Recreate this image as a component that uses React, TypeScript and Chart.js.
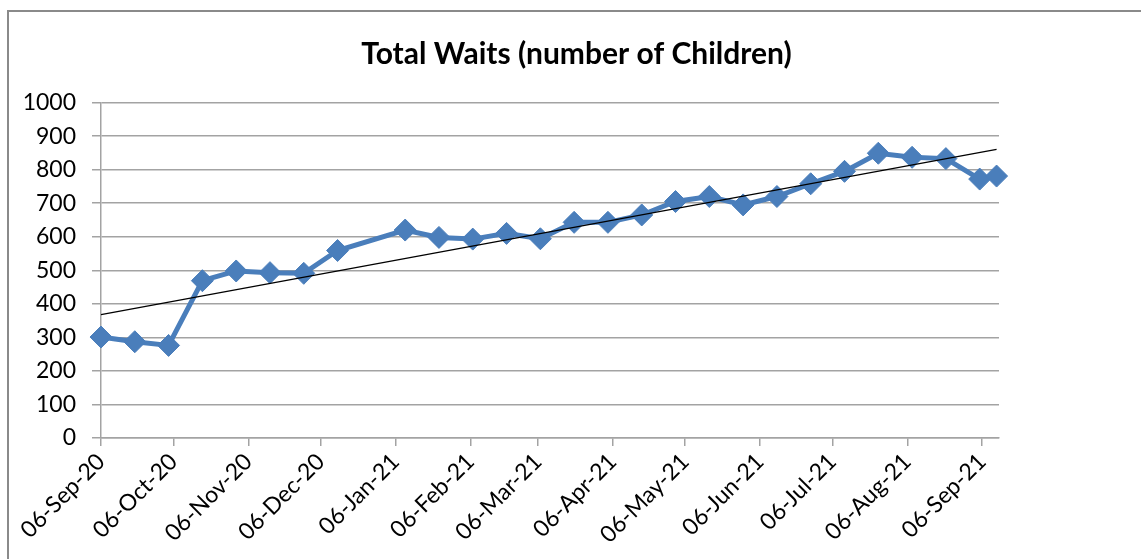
import React, { useEffect, useRef } from 'react';
import { Chart, registerables } from 'chart.js';

Chart.register(...registerables);

// Sample dates (fortnightly snapshots)
const sampleDates = [
  '2020-09-06', '2020-09-20', '2020-10-04', '2020-10-18', '2020-11-01',
  '2020-11-15', '2020-11-29', '2020-12-13', '2021-01-10', '2021-01-24',
  '2021-02-07', '2021-02-21', '2021-03-07', '2021-03-21', '2021-04-04',
  '2021-04-18', '2021-05-02', '2021-05-16', '2021-05-30', '2021-06-13',
  '2021-06-27', '2021-07-11', '2021-07-25', '2021-08-08', '2021-08-22',
  '2021-09-05', '2021-09-12',
];

const totalWaits = [
  301, 287, 276, 469, 498,
  493, 491, 559, 620, 598,
  593, 610, 594, 643, 643,
  665, 705, 720, 695, 720,
  758, 795, 849, 837, 833,
  772, 781,
];

const tickDates = [
  '2020-09-06', '2020-10-06', '2020-11-06', '2020-12-06', '2021-01-06',
  '2021-02-06', '2021-03-06', '2021-04-06', '2021-05-06', '2021-06-06',
  '2021-07-06', '2021-08-06', '2021-09-06',
];

const tickLabels = [
  '06-Sep-20', '06-Oct-20', '06-Nov-20', '06-Dec-20', '06-Jan-21',
  '06-Feb-21', '06-Mar-21', '06-Apr-21', '06-May-21', '06-Jun-21',
  '06-Jul-21', '06-Aug-21', '06-Sep-21',
];

const yTicks = [0, 100, 200, 300, 400, 500, 600, 700, 800, 900, 1000];

const axisStart = '2020-09-06';
const axisEnd = '2021-09-13';

const DAY = 86400000;
const toDay = (s: string) =>
  (Date.parse(s + 'T00:00:00Z') - Date.parse(axisStart + 'T00:00:00Z')) / DAY;

export default function App() {
  const ref = useRef<HTMLCanvasElement | null>(null);

  useEffect(() => {
    if (!ref.current) return;
    const xs = sampleDates.map(toDay);
    const points = xs.map((x, i) => ({ x, y: totalWaits[i] }));

    // linear trendline (least squares)
    const n = xs.length;
    const mx = xs.reduce((a, b) => a + b, 0) / n;
    const my = totalWaits.reduce((a, b) => a + b, 0) / n;
    let sxy = 0;
    let sxx = 0;
    xs.forEach((x, i) => {
      sxy += (x - mx) * (totalWaits[i] - my);
      sxx += (x - mx) * (x - mx);
    });
    const slope = sxy / sxx;
    const icpt = my - slope * mx;
    const x0 = xs[0];
    const x1 = xs[n - 1];
    const trend = [
      { x: x0, y: icpt + slope * x0 },
      { x: x1, y: icpt + slope * x1 },
    ];

    const tickDays = tickDates.map(toDay);
    const gridColor = '#a3a3a3';
    const labelFont = { family: 'Lato', size: 23 };

    const chart = new Chart(ref.current, {
      type: 'line',
      data: {
        datasets: [
          {
            label: 'Trend',
            data: trend,
            borderColor: '#000000',
            borderWidth: 1.3,
            pointRadius: 0,
            fill: false,
            order: 0,
            clip: false,
            yAxisID: 'y',
            xAxisID: 'x',
          },
          {
            label: 'Total Waits',
            data: points,
            borderColor: '#4a7ebb',
            backgroundColor: '#4a7ebb',
            borderWidth: 5,
            pointStyle: 'rectRot',
            pointRadius: 11,
            pointBackgroundColor: '#4a7ebb',
            pointBorderColor: '#4a7ebb',
            pointBorderWidth: 1,
            tension: 0,
            fill: false,
            order: 1,
            clip: false,
            yAxisID: 'y',
            xAxisID: 'x',
          },
        ],
      },
      options: {
        responsive: false,
        animation: false,
        layout: { padding: { left: 12, right: 0, top: 0, bottom: 0 } },
        plugins: {
          legend: { display: false },
          tooltip: { enabled: false },
          title: {
            display: true,
            text: 'Total Waits (number of Children)',
            color: '#000000',
            font: { family: 'Lato', size: 30, weight: 'bold', lineHeight: 1.2 },
            padding: { top: 36, bottom: 30.6 },
          },
        },
        scales: {
          x: {
            type: 'linear',
            position: 'bottom',
            min: 0,
            max: toDay(axisEnd),
            afterBuildTicks: (scale: any) => {
              scale.ticks = tickDays.map((v) => ({ value: v }));
            },
            afterFit: (scale: any) => {
              scale.height = 121;
            },
            grid: {
              display: true,
              drawOnChartArea: false,
              drawTicks: true,
              tickLength: 8,
              color: gridColor,
              lineWidth: 1.5,
            },
            border: { display: true, color: gridColor, width: 1.5 },
            ticks: {
              autoSkip: false,
              minRotation: 45,
              maxRotation: 45,
              padding: 2,
              color: '#000000',
              font: labelFont,
              callback: (value: any) => {
                const i = tickDays.indexOf(Number(value));
                return i >= 0 ? tickLabels[i] : '';
              },
            },
          },
          y: {
            type: 'linear',
            position: 'left',
            min: 0,
            max: 1000,
            afterBuildTicks: (scale: any) => {
              scale.ticks = yTicks.map((v) => ({ value: v }));
            },
            afterFit: (scale: any) => {
              scale.width = 89;
            },
            grid: {
              display: true,
              drawOnChartArea: true,
              drawTicks: true,
              tickLength: 9,
              color: gridColor,
              lineWidth: 1.5,
            },
            border: { display: true, color: gridColor, width: 1.5 },
            ticks: {
              padding: 16,
              color: '#000000',
              font: labelFont,
              callback: (value: any) => String(value),
            },
          },
          pad: {
            type: 'linear',
            position: 'right',
            display: true,
            grid: { display: false },
            border: { display: false },
            ticks: { display: false },
            afterFit: (scale: any) => {
              scale.width = 142;
            },
          },
        },
      },
    } as any);

    return () => chart.destroy();
  }, []);

  return (
    <div
      style={{
        position: 'fixed',
        left: 0,
        top: 0,
        width: 1141,
        height: 559,
        overflow: 'hidden',
        background: '#ffffff',
      }}
    >
      <div
        style={{
          position: 'absolute',
          left: 7,
          top: 10,
          width: 1200,
          height: 620,
          borderTop: '2px solid #8a8a8a',
          borderLeft: '2px solid #8a8a8a',
          boxSizing: 'border-box',
        }}
      />
      <canvas
        ref={ref}
        width={1141}
        height={559}
        style={{ position: 'absolute', left: 0, top: 0, width: 1141, height: 559 }}
      />
    </div>
  );
}
